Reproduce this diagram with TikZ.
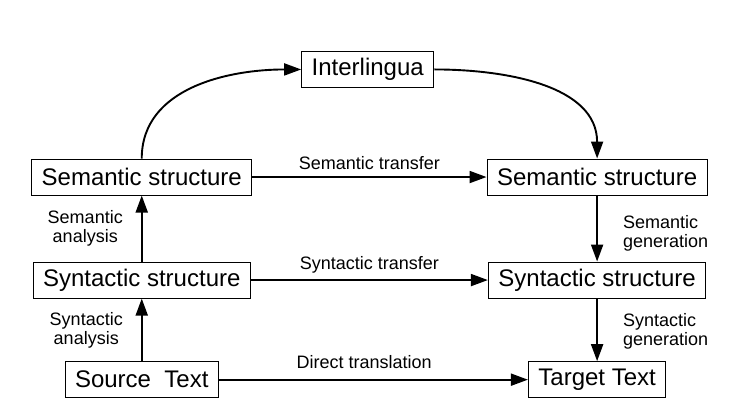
\documentclass[tikz,border=0pt]{standalone}
\usepackage{fontspec}
\setmainfont{Liberation Sans}
\usetikzlibrary{positioning,arrows.meta}

\begin{document}
\begin{tikzpicture}[
  >={Triangle[length=8.5pt,width=6pt]},
  box/.style={draw,line width=0.5pt,font=\fontsize{12}{14}\selectfont,minimum height=18pt,inner xsep=5pt},
  flow/.style={->,line width=0.95pt},
  note/.style={font=\fontsize{9}{9.5}\selectfont,inner sep=3pt},
]
\useasboundingbox (0,0) rectangle (12.93,7.35);
\node[box] (il)   at (6.46,6.13)  {Interlingua};
\node[box] (semS) at (2.49,4.24)  {Semantic structure};
\node[box] (semT) at (10.49,4.24) {Semantic structure};
\node[box] (synS) at (2.49,2.43)  {Syntactic structure};
\node[box] (synT) at (10.49,2.43) {Syntactic structure};
\node[box] (src)  at (2.49,0.68)  {Source\ \ Text};
\node[box] (tgt)  at (10.49,0.68) {Target Text};
% analysis side
\draw[flow] (src) -- node[note,left=6pt,align=center]{Syntactic\\analysis} (synS);
\draw[flow] (synS) -- node[note,left=6pt,align=center]{Semantic\\analysis} (semS);
% over the top
\draw[flow] (semS.north) to[out=90,in=180] (il.west);
\draw[flow] (il.east) to[out=0,in=90] (semT.north);
% generation side
\draw[flow] (semT) -- node[note,right=9.5pt,align=left,pos=0.58]{Semantic\\generation} (synT);
\draw[flow] (synT) -- node[note,right=9.5pt,align=left,pos=0.52]{Syntactic\\generation} (tgt);
% transfers
\draw[flow] (semS) -- node[note,above]{Semantic transfer} (semT);
\draw[flow] (synS) -- node[note,above]{Syntactic transfer} (synT);
\draw[flow] (src) -- node[note,above=2pt,pos=0.47]{Direct translation} (tgt);
\end{tikzpicture}
\end{document}
